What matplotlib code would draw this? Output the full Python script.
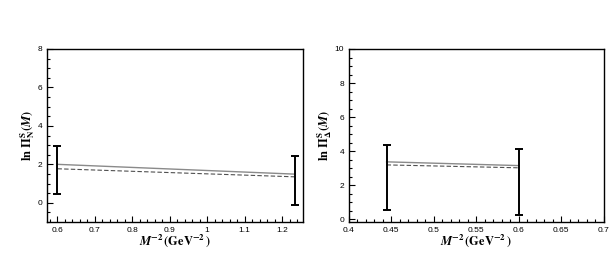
import numpy as np
import matplotlib
matplotlib.use("Agg")
import matplotlib.pyplot as plt
from matplotlib.ticker import MultipleLocator

# left panel: nucleon
x_N = [0.6, 1.2346]
solid_N = [2.0, 1.49]
dashed_N = [1.77, 1.35]
err_lo_N = [0.45, -0.14]
err_hi_N = [2.95, 2.43]

# right panel: delta
x_D = [0.4444, 0.6]
solid_D = [3.38, 3.16]
dashed_D = [3.2, 3.03]
err_lo_D = [0.57, 0.25]
err_hi_D = [4.36, 4.15]

plt.rcParams['font.family'] = ['Liberation Sans', 'DejaVu Sans']
plt.rcParams['mathtext.fontset'] = 'stix'

fig = plt.figure(figsize=(6.11, 2.67), dpi=100)
ax1 = fig.add_axes([0.0769, 0.1685, 0.419, 0.648])
ax2 = fig.add_axes([0.571, 0.1685, 0.417, 0.648])


def draw(ax, x, solid, dashed, lo, hi):
    ax.plot(x, solid, color='#8a8a8a', lw=1.0, ls='-')
    ax.plot(x, dashed, color='#505050', lw=0.8, ls=(0, (4, 2)))
    lo = np.array(lo)
    hi = np.array(hi)
    ax.errorbar(x, (lo + hi) / 2, yerr=(hi - lo) / 2, fmt='none',
                ecolor='black', elinewidth=1.4, capsize=3.2, capthick=1.4)
    ax.tick_params(which='both', direction='in', top=False, right=False,
                   labelsize=6, width=0.8)
    ax.tick_params(which='major', length=4)
    ax.tick_params(which='minor', length=2)
    for s in ax.spines.values():
        s.set_linewidth(1.0)
    ax.set_xlabel(r"$\mathbfit{M}^{\mathbf{-2}}\,\mathbf{(GeV^{-2}\,)}$",
                  fontsize=9, labelpad=-1)


draw(ax1, x_N, solid_N, dashed_N, err_lo_N, err_hi_N)
ax1.set_xlim(0.572, 1.256)
ax1.set_ylim(-1, 8)
ax1.xaxis.set_major_locator(MultipleLocator(0.1))
ax1.xaxis.set_minor_locator(MultipleLocator(0.02))
ax1.yaxis.set_major_locator(MultipleLocator(2))
ax1.yaxis.set_minor_locator(MultipleLocator(0.5))
ax1.set_xticks([0.6, 0.7, 0.8, 0.9, 1.0, 1.1, 1.2])
ax1.set_xticklabels(['0.6', '0.7', '0.8', '0.9', '1', '1.1', '1.2'])
ax1.set_ylabel(r"$\mathbf{ln\ \Pi^{S}_{N}(}\mathbfit{M}\mathbf{)}$", fontsize=9, labelpad=0.5)

draw(ax2, x_D, solid_D, dashed_D, err_lo_D, err_hi_D)
ax2.set_xlim(0.4, 0.7)
ax2.set_ylim(-0.15, 10)
ax2.xaxis.set_major_locator(MultipleLocator(0.05))
ax2.xaxis.set_minor_locator(MultipleLocator(0.01))
ax2.yaxis.set_major_locator(MultipleLocator(2))
ax2.yaxis.set_minor_locator(MultipleLocator(0.5))
ax2.set_xticks([0.4, 0.45, 0.5, 0.55, 0.6, 0.65, 0.7])
ax2.set_xticklabels(['0.4', '0.45', '0.5', '0.55', '0.6', '0.65', '0.7'])
ax2.set_ylabel(r"$\mathbf{ln\ \Pi^{S}_{\Delta}(}\mathbfit{M}\mathbf{)}$", fontsize=9, labelpad=0.5)

fig.savefig("out.png", dpi=100)
